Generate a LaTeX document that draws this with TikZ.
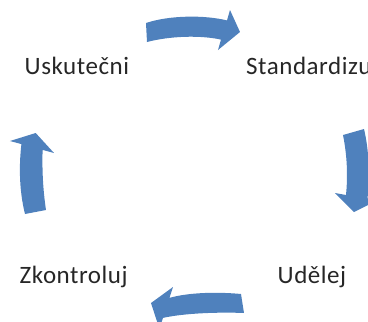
\documentclass[tikz,border=0pt]{standalone}
\usepackage{fontspec}
\setmainfont{Carlito}[LetterSpace=2.2]
\definecolor{arrowblue}{RGB}{79,129,189}
\definecolor{labelgray}{RGB}{38,38,38}
\begin{document}
\begin{tikzpicture}[x=1pt,y=-1pt,
  cyclearrow/.style={fill=arrowblue,draw=none},
  steplabel/.style={anchor=base west,inner sep=0pt,
    font=\fontsize{25}{30}\selectfont,text=labelgray}]
\useasboundingbox (0,0) rectangle (368,322);
\clip (0,0) rectangle (368,322);

% step labels
\node[steplabel] (act)  at (24.5,74.5)  {Uskutečni};
\node[steplabel] (std)  at (246,74.5)   {Standardizu};
\node[steplabel] (chk)  at (19.5,283.3) {Zkontroluj};
\node[steplabel] (do)   at (277.5,283.3) {Udělej};

% top arrow, pointing right
\fill[cyclearrow] (146,23) .. controls (170,15) and (205,15) .. (227,20.4)
  -- (230,10) -- (240,32) -- (218,50) -- (221,39.6)
  .. controls (200,35) and (170,36) .. (147,42) -- cycle;

% right arrow, pointing down
\fill[cyclearrow] (343,135) .. controls (347,155) and (348,175) .. (346,195)
  -- (335,193) -- (354,212) -- (378,200) -- (367.5,198.4)
  .. controls (370,175) and (369,150) .. (364,129) -- cycle;

% bottom arrow, pointing left
\fill[cyclearrow] (241,294) .. controls (220,292) and (190,292) .. (169.4,297.9)
  -- (173,287) -- (151,303) -- (159.4,328.8) -- (163,317.9)
  .. controls (185,313) and (220,312) .. (244,313) -- cycle;

% left arrow, pointing up
\fill[cyclearrow] (25,214) .. controls (19,190) and (19,165) .. (21.4,144.1)
  -- (10,141) -- (35.7,133) -- (54,153) -- (42.6,149.9)
  .. controls (42,170) and (43,190) .. (46,210) -- cycle;
\end{tikzpicture}
\end{document}
